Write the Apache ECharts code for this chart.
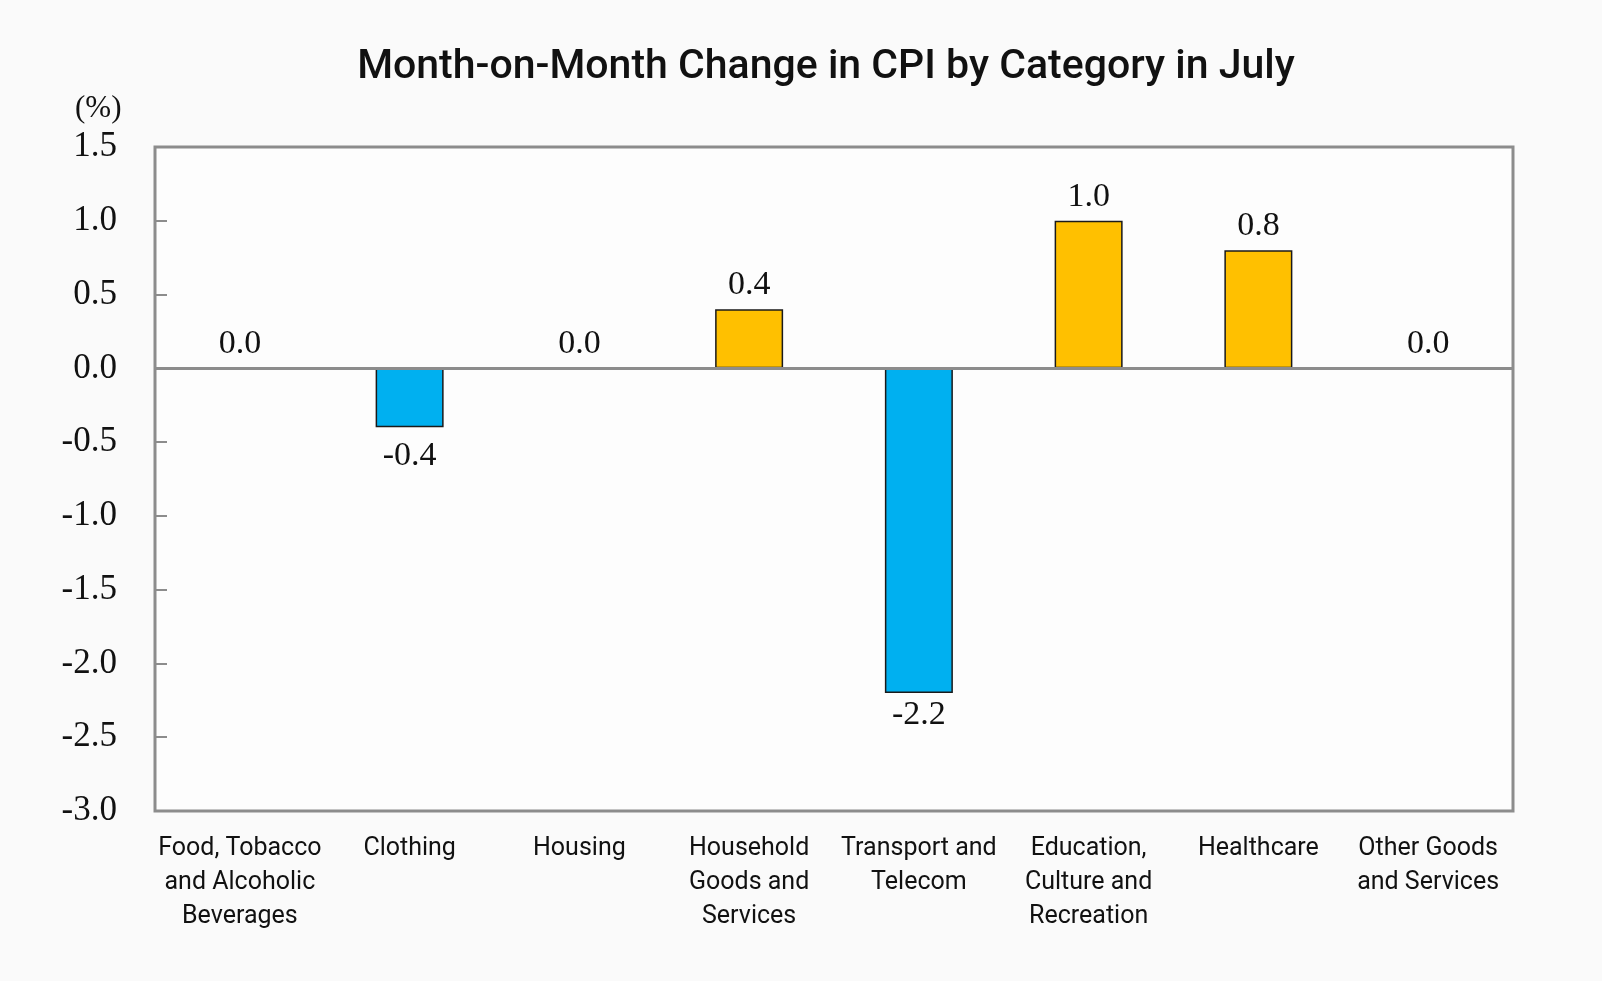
<!DOCTYPE html>
<html>
<head>
<meta charset="utf-8">
<title>Month-on-Month Change in CPI by Category in July</title>
<script src="https://cdn.jsdelivr.net/npm/echarts@6/dist/echarts.min.js"></script>
<style>
    html, body { margin: 0; padding: 0; background: #fafafa; }
    #main { width: 1602px; height: 981px; }
</style>
</head>
<body>
<div id="main"></div>
<script>
// categories and month-on-month change (%)
var categories = [
    'Food, Tobacco\nand Alcoholic\nBeverages',
    'Clothing',
    'Housing',
    'Household\nGoods and\nServices',
    'Transport and\nTelecom',
    'Education,\nCulture and\nRecreation',
    'Healthcare',
    'Other Goods\nand Services'
];
var changes = [0.0, -0.4, 0.0, 0.4, -2.2, 1.0, 0.8, 0.0];

var yMin = -3.0;
var yMax = 1.5;
var yStep = 0.5;

var sansFont = "'Roboto', 'Noto Sans', sans-serif";
var serifFont = "'Liberation Serif', 'DejaVu Serif', serif";

var myChart = echarts.init(document.getElementById('main'));

// label gap under negative bars (the short one sits a bit lower)
function negGap(v) {
    return v > -1 ? 12 : 5;
}

var option = {
    animation: false,
    backgroundColor: '#fafafa',
    title: [
        {
            text: 'Month-on-Month Change in CPI by Category in July',
            left: 821,
            textAlign: 'center',
            top: 42,
            textStyle: {
                fontFamily: sansFont,
                fontWeight: 500,
                fontSize: 41,
                color: '#111'
            }
        },
        {
            text: '(%)',
            left: 70,
            top: 88,
            textStyle: {
                fontFamily: serifFont,
                fontWeight: 'normal',
                fontSize: 31,
                color: '#111'
            }
        }
    ],
    grid: {
        left: 155,
        right: 89,
        top: 147,
        bottom: 170,
        show: true,
        backgroundColor: '#fdfdfd',
        borderColor: '#8c8c8c',
        borderWidth: 3
    },
    xAxis: {
        type: 'category',
        data: categories,
        axisLine: { show: false },
        axisTick: { show: false },
        axisLabel: {
            interval: 0,
            margin: 21,
            fontFamily: sansFont,
            fontSize: 25,
            lineHeight: 34,
            color: '#111'
        }
    },
    yAxis: {
        type: 'value',
        min: yMin,
        max: yMax,
        interval: yStep,
        axisLine: { show: false },
        splitLine: { show: false },
        axisTick: {
            show: true,
            inside: true,
            length: 12,
            lineStyle: { color: '#8c8c8c', width: 2 }
        },
        axisLabel: {
            margin: 38,
            fontFamily: serifFont,
            fontSize: 35,
            color: '#111',
            formatter: function (v) {
                return v.toFixed(1);
            }
        }
    },
    series: [
        {
            type: 'bar',
            barWidth: 68,
            data: changes.map(function (v) {
                if (v < 0) {
                    return { value: v, label: { position: 'bottom', distance: negGap(v) } };
                }
                return v;
            }),
            itemStyle: {
                borderColor: '#1a1a1a',
                borderWidth: 1.5,
                color: function (p) {
                    return p.value < 0 ? '#00b0f0' : '#ffc000';
                }
            },
            label: {
                show: true,
                position: 'top',
                distance: 7,
                fontFamily: serifFont,
                fontSize: 34,
                color: '#111',
                formatter: function (p) {
                    return p.value.toFixed(1);
                }
            },
            markLine: {
                silent: true,
                symbol: 'none',
                label: { show: false },
                lineStyle: { color: '#8c8c8c', width: 3, type: 'solid' },
                data: [{ yAxis: 0 }]
            }
        }
    ]
};

myChart.setOption(option);
</script>
</body>
</html>
